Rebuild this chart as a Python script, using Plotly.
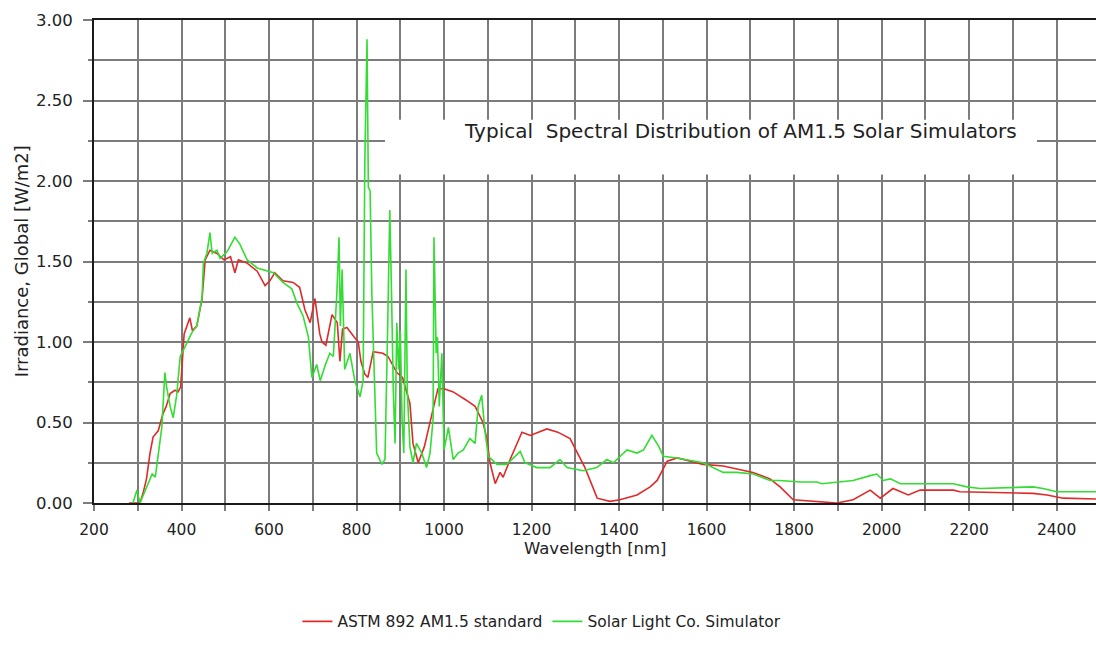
import plotly.graph_objects as go

# ---- data ----
astm_wl = [280, 298, 305, 312, 320, 328, 335, 347, 357, 365, 374, 385, 392, 398, 402, 406, 419, 425, 435,
           447, 454, 465, 481, 497, 512, 522, 530, 550, 573, 591, 602, 613, 632, 655, 670, 682, 694, 705,
           716, 721, 730, 744, 756, 762, 768, 778, 795, 804, 810, 819, 826, 838, 860, 872, 892, 905, 922,
           929, 941, 955, 973, 986, 1000, 1021, 1050, 1071, 1089, 1098, 1105, 1117, 1128, 1135, 1151, 1178,
           1197, 1235, 1260, 1288, 1322, 1350, 1379, 1402, 1441, 1471, 1487, 1510, 1533, 1560, 1592, 1638,
           1670, 1706, 1745, 1768, 1798, 1843, 1898, 1935, 1974, 1997, 2026, 2061, 2088, 2164, 2179, 2346,
           2378, 2415, 2490]
astm_val = [0.0, 0.0, 0.0, 0.06, 0.15, 0.31, 0.41, 0.45, 0.55, 0.60, 0.68, 0.70, 0.69, 0.72, 0.90, 1.05, 1.15, 1.07, 1.10,
            1.27, 1.51, 1.57, 1.55, 1.51, 1.53, 1.43, 1.51, 1.49, 1.44, 1.35, 1.38, 1.43, 1.38, 1.37, 1.34, 1.20, 1.12, 1.27,
            1.05, 1.00, 0.98, 1.17, 1.12, 0.88, 1.08, 1.09, 1.03, 1.00, 0.88, 0.80, 0.78, 0.94, 0.93, 0.91, 0.81, 0.78, 0.62,
            0.37, 0.25, 0.35, 0.56, 0.71, 0.71, 0.69, 0.64, 0.60, 0.50, 0.40, 0.25, 0.12, 0.19, 0.16, 0.27, 0.44,
            0.42, 0.46, 0.44, 0.40, 0.22, 0.03, 0.01, 0.02, 0.05, 0.10, 0.14, 0.26, 0.28, 0.26, 0.24, 0.23,
            0.21, 0.19, 0.15, 0.10, 0.02, 0.01, 0.0, 0.02, 0.08, 0.03, 0.09, 0.05, 0.08, 0.08, 0.07, 0.06,
            0.05, 0.03, 0.025]

sim_wl = [289, 298, 305, 321, 333, 340, 347, 355, 362, 366, 374, 381, 389, 397, 408, 424, 435, 447, 450, 458,
          465, 470, 481, 488, 504, 522, 533, 550, 573, 595, 610, 632, 652, 664, 678, 690, 698, 709, 717, 729,
          739, 747, 755, 760, 763, 767, 773, 785, 796, 808, 815, 819, 824, 827, 831, 835, 838, 846, 858, 865,
          871, 876, 880, 884, 888, 892, 896, 900, 904, 908, 913, 916, 922, 929, 937, 949, 960, 968, 975, 977,
          982, 985, 989, 995, 1000, 1010, 1021, 1032, 1044, 1059, 1071, 1078, 1086, 1093, 1101, 1121, 1143,
          1174, 1185, 1212, 1242, 1265, 1281, 1318, 1349, 1372, 1387, 1418, 1441, 1456, 1475, 1491, 1501,
          1532, 1592, 1638, 1669, 1707, 1745, 1768, 1814, 1852, 1863, 1905, 1935, 1974, 1989, 2004, 2020,
          2043, 2096, 2164, 2195, 2225, 2346, 2369, 2400, 2490]
sim_val = [0.0, 0.08, 0.0, 0.10, 0.18, 0.16, 0.31, 0.47, 0.81, 0.72, 0.60, 0.53, 0.67, 0.91, 0.97, 1.06, 1.10, 1.28, 1.49, 1.55,
           1.68, 1.55, 1.57, 1.52, 1.56, 1.65, 1.61, 1.51, 1.46, 1.44, 1.43, 1.37, 1.33, 1.24, 1.16, 1.03, 0.78, 0.86, 0.76, 0.86,
           0.93, 0.91, 1.30, 1.65, 1.10, 1.45, 0.83, 0.93, 0.76, 0.66, 0.76, 2.13, 2.88, 1.96, 1.94, 1.30, 1.00, 0.31, 0.24, 0.27,
           1.07, 1.82, 1.30, 0.70, 0.37, 1.12, 0.83, 1.07, 0.52, 0.31, 1.45, 0.70, 0.35, 0.25, 0.37, 0.31, 0.22, 0.31, 0.52, 1.65,
           0.93, 1.03, 0.60, 0.93, 0.33, 0.47, 0.27, 0.31, 0.33, 0.40, 0.37, 0.60, 0.67, 0.46, 0.29, 0.24, 0.24,
           0.32, 0.25, 0.22, 0.22, 0.27, 0.22, 0.20, 0.22, 0.27, 0.25, 0.33, 0.31, 0.33, 0.42, 0.35, 0.29,
           0.28, 0.25, 0.19, 0.19, 0.18, 0.14, 0.14, 0.13, 0.13, 0.12, 0.13, 0.14, 0.17, 0.18, 0.14, 0.15,
           0.12, 0.12, 0.12, 0.10, 0.09, 0.10, 0.09, 0.07, 0.07]

series_names = ["ASTM 892 AM1.5 standard", "Solar Light Co. Simulator"]
chart_title = "Typical  Spectral Distribution of AM1.5 Solar Simulators"
x_title = "Wavelength [nm]"
y_title = "Irradiance, Global [W/m2]"
x_major = [200, 400, 600, 800, 1000, 1200, 1400, 1600, 1800, 2000, 2200, 2400]
y_major = [0.0, 0.5, 1.0, 1.5, 2.0, 2.5, 3.0]

FONT = "DejaVu Sans"
TXT = "#222222"
GRID = "#7c7c7c"

fig = go.Figure()
fig.add_trace(go.Scatter(x=astm_wl, y=astm_val, mode="lines", name=series_names[0],
                         line=dict(color="#e02a2a", width=1.6)))
fig.add_trace(go.Scatter(x=sim_wl, y=sim_val, mode="lines", name=series_names[1],
                         line=dict(color="#33dd33", width=1.6)))

# white box behind the title
fig.add_shape(type="rect", xref="x", yref="y", x0=865, x1=2355, y0=2.04, y1=2.38,
              fillcolor="white", line=dict(width=0), layer="between")
fig.add_annotation(x=1677, y=2.31, xref="x", yref="y", text=chart_title, showarrow=False,
                   font=dict(family=FONT, size=20, color=TXT))

fig.add_annotation(x=0.5, y=-0.094, xref="paper", yref="paper", text=x_title, showarrow=False,
                   font=dict(family=FONT, size=16.5, color=TXT), yanchor="middle")
fig.add_annotation(x=-0.072, y=0.5, xref="paper", yref="paper", text=y_title, showarrow=False,
                   textangle=-90, font=dict(family=FONT, size=18, color=TXT), xanchor="center")

fig.update_layout(
    width=1096, height=659,
    margin=dict(l=94, r=0, t=20, b=156),
    paper_bgcolor="white", plot_bgcolor="white",
    font=dict(family=FONT, size=16, color=TXT),
    showlegend=True,
    legend=dict(orientation="h", x=0.447, xanchor="center", y=-0.246, yanchor="middle",
                font=dict(family=FONT, size=15.5, color=TXT), bgcolor="rgba(0,0,0,0)"),
    xaxis=dict(range=[200, 2490], tickvals=x_major, ticks="outside", ticklen=6, tickwidth=2,
               tickcolor=GRID, showgrid=True, gridcolor=GRID, gridwidth=2,
               minor=dict(dtick=100, tick0=100, showgrid=True, gridcolor=GRID, gridwidth=2,
                          ticks="outside", ticklen=6, tickwidth=2, tickcolor=GRID),
               showline=True, linecolor="#1a1a1a", linewidth=2, mirror=True,
               zeroline=False, ticklabelstandoff=5,
               tickfont=dict(family=FONT, size=15.5, color=TXT)),
    yaxis=dict(range=[0, 3.0], tickvals=y_major, ticktext=["%.2f" % v for v in y_major],
               ticks="outside", ticklen=9, tickwidth=2, tickcolor=GRID,
               showgrid=True, gridcolor=GRID, gridwidth=2,
               minor=dict(dtick=0.25, showgrid=True, gridcolor=GRID, gridwidth=2,
                          ticks="outside", ticklen=4, tickwidth=2, tickcolor=GRID),
               showline=True, linecolor="#1a1a1a", linewidth=2,
               zeroline=False, ticklabelstandoff=7,
               tickfont=dict(family=FONT, size=16.5, color=TXT)),
)

fig.write_html("out.html", config={"displayModeBar": False},
               post_script="document.body.style.margin='0';document.body.style.overflow='hidden';")
